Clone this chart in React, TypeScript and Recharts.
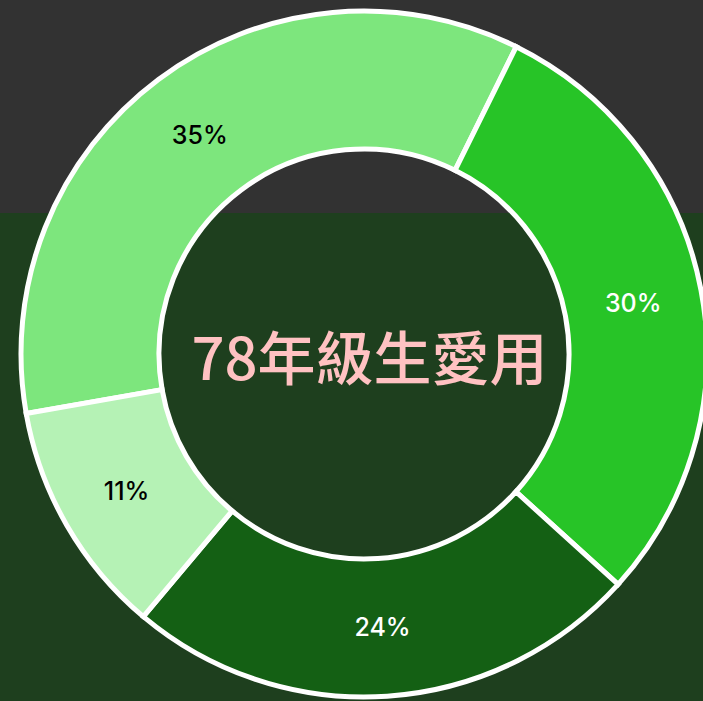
import { PieChart, Pie, Cell } from 'recharts'

const groups = ['A', 'B', 'C', 'D']
const shares = [35.1, 29.4, 24.4, 11.1]
const shareLabels = ['35%', '30%', '24%', '11%']

const COLORS = ['#7de67d', '#27c427', '#146014', '#b5f2b5']
const LABEL_COLORS = ['#000000', '#ffffff', '#ffffff', '#000000']

const CENTER_TITLE = '78年級生愛用'

const data = groups.map((g, i) => ({ name: g, value: shares[i], label: shareLabels[i] }))

const RADIAN = Math.PI / 180

const renderLabel = ({ cx, cy, midAngle, innerRadius, outerRadius, index }: any) => {
  const r = (innerRadius + outerRadius) / 2
  const x = cx + r * Math.cos(-midAngle * RADIAN)
  const y = cy + r * Math.sin(-midAngle * RADIAN)
  return (
    <text
      x={x}
      y={y}
      fill={LABEL_COLORS[index % LABEL_COLORS.length]}
      textAnchor="middle"
      dominantBaseline="central"
      fontSize={25}
      fontWeight={500}
      fontFamily="Inter, 'Liberation Sans', Arial, sans-serif"
    >
      {data[index].label}
    </text>
  )
}

export default function App() {
  return (
    <div style={{
      position: 'relative', width: 703, height: 701, overflow: 'hidden',
      background: 'linear-gradient(to bottom, #323232 0px, #323232 213px, #1e3f1e 213px, #1e3f1e 100%)',
    }}>
      <style>{'body{margin:0}'}</style>
      <PieChart width={703} height={701} margin={{ top: 0, right: 0, bottom: 0, left: 0 }}>
        <Pie
          data={data}
          dataKey="value"
          nameKey="name"
          cx={364}
          cy={354}
          innerRadius={205}
          outerRadius={343}
          startAngle={190}
          endAngle={-170}
          stroke="#ffffff"
          strokeWidth={5}
          label={renderLabel}
          labelLine={false}
          isAnimationActive={false}
        >
          {data.map((_, i) => (
            <Cell key={i} fill={COLORS[i % COLORS.length]} />
          ))}
        </Pie>
      </PieChart>
      {/* title in the hole of the ring */}
      <div style={{
        position: 'absolute', left: 0, top: 320, width: 739, height: 70,
        lineHeight: '70px', textAlign: 'center', whiteSpace: 'nowrap',
        color: '#ffc2c2', fontSize: 58, fontWeight: 500,
        fontFamily: "'Noto Sans CJK TC', 'Noto Sans', sans-serif",
        pointerEvents: 'none',
      }}>
        {CENTER_TITLE}
      </div>
    </div>
  )
}
